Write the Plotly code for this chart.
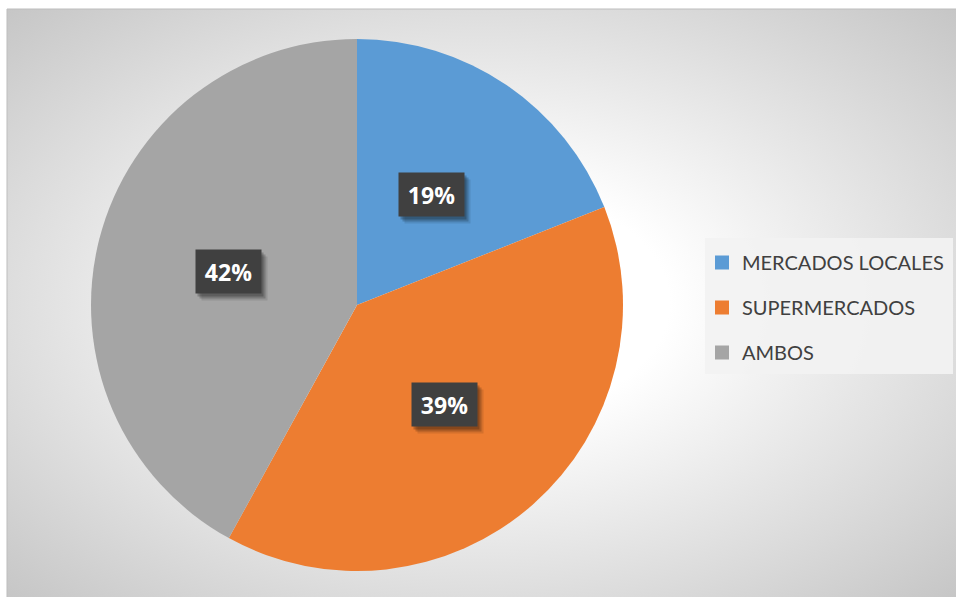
import base64
import math
import plotly.graph_objects as go

# Purchase channel shares (%)
categories = ["MERCADOS LOCALES", "SUPERMERCADOS", "AMBOS"]
values = [19, 39, 42]
colors = ["#5B9BD5", "#ED7D31", "#A5A5A5"]

W, H = 956, 597

# pie placement in pixels (center and radius)
CX, CY, R = 357, 305, 266
dom_x = [(CX - R) / W, (CX + R) / W]
dom_y = [(H - CY - R) / H, (H - CY + R) / H]

# radial grey-to-white backdrop of the chart area
svg = (
    '<svg xmlns="http://www.w3.org/2000/svg" width="949" height="588" '
    'viewBox="0 0 949 588" preserveAspectRatio="none">'
    '<defs><radialGradient id="g" cx="50%" cy="50%" r="70.7%">'
    '<stop offset="0" stop-color="#ffffff"/>'
    '<stop offset="0.28" stop-color="#ffffff"/>'
    '<stop offset="1" stop-color="#c6c6c6"/>'
    '</radialGradient></defs>'
    '<rect width="949" height="588" fill="url(#g)"/></svg>'
)
bg_src = "data:image/svg+xml;base64," + base64.b64encode(svg.encode()).decode()

fig = go.Figure()

fig.add_trace(go.Pie(
    labels=categories,
    values=values,
    marker=dict(colors=colors, line=dict(width=0)),
    sort=False,
    direction="clockwise",
    rotation=0,
    textinfo="none",
    hoverinfo="label+percent",
    showlegend=False,
    domain=dict(x=dom_x, y=dom_y),
))

# legend entries as square swatches
for i, (name, col) in enumerate(zip(categories, colors)):
    fig.add_trace(go.Scatter(
        x=[None], y=[None], mode="markers", name=name,
        legendgroup=f"g{i}",
        marker=dict(symbol="square", size=14, color=col),
    ))

# percentage labels in dark boxes at half radius of each slice
annotations = []
total = sum(values)
cum = 0.0
for v in values:
    mid = (cum + v / 2) / total * 2 * math.pi
    cum += v
    px = CX + 0.5 * R * math.sin(mid)
    py = CY - 0.5 * R * math.cos(mid)
    # soft drop shadow
    for dx, dy, a in [(6, 7, 0.10), (4, 5, 0.18), (2, 3, 0.22)]:
        annotations.append(dict(
            x=(px + dx) / W, y=1 - (py + dy) / H, xref="paper", yref="paper",
            xanchor="center", yanchor="middle",
            text="", showarrow=False, width=63, height=41,
            bgcolor=f"rgba(0,0,0,{a})",
        ))
    annotations.append(dict(
        x=px / W, y=1 - py / H, xref="paper", yref="paper",
        xanchor="center", yanchor="middle",
        text=f"<b>{round(v / total * 100)}%</b>", showarrow=False,
        width=63, height=41, bgcolor="#404040",
        font=dict(family="Open Sans", size=23, color="#ffffff"),
    ))

fig.update_layout(
    width=W, height=H,
    margin=dict(l=0, r=0, t=0, b=0),
    paper_bgcolor="#ffffff",
    plot_bgcolor="rgba(0,0,0,0)",
    xaxis=dict(visible=False),
    yaxis=dict(visible=False),
    images=[dict(
        source=bg_src, xref="paper", yref="paper",
        x=7 / W, y=1 - 9 / H, sizex=(W - 7) / W, sizey=(H - 9) / H,
        xanchor="left", yanchor="top", sizing="stretch", layer="below",
    )],
    shapes=[
        dict(type="rect", xref="paper", yref="paper",
             x0=7 / W, x1=1.01, y0=-0.01, y1=1 - 9 / H,
             line=dict(color="#bdbdbd", width=1), fillcolor="rgba(0,0,0,0)",
             layer="below"),
        dict(type="rect", xref="paper", yref="paper",
             x0=705 / W, x1=953 / W, y0=1 - 374 / H, y1=1 - 238 / H,
             line=dict(width=0), fillcolor="rgba(242,242,242,0.92)",
             layer="below"),
    ],
    legend=dict(
        x=702 / W, y=1 - 243 / H, xanchor="left", yanchor="top",
        bgcolor="rgba(0,0,0,0)",
        font=dict(family="Lato", size=20, color="#404040"),
        traceorder="grouped", tracegroupgap=16,
        itemclick=False, itemdoubleclick=False,
    ),
    annotations=annotations,
)

fig.write_html("out.html")
